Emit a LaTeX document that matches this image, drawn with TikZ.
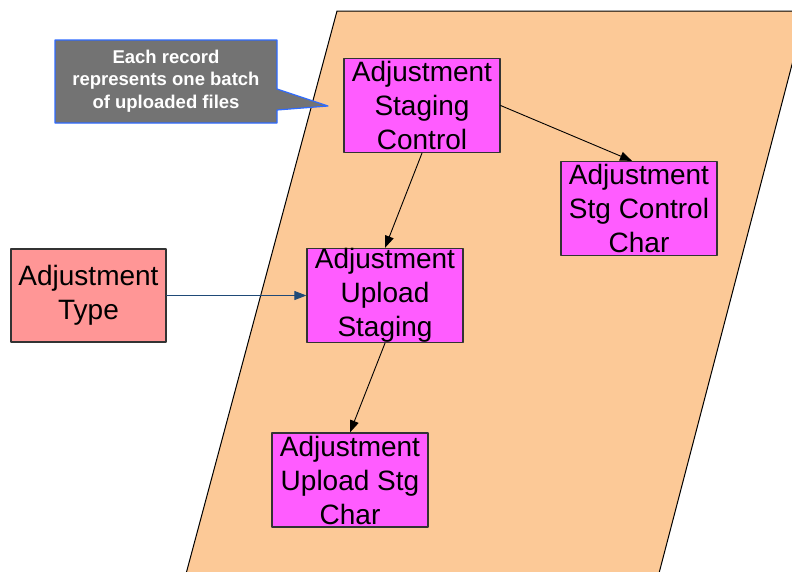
\documentclass[tikz,border=0pt]{standalone}
\usepackage{fontspec}
\setmainfont{Liberation Sans}
\usepackage{tikz}
\usetikzlibrary{arrows.meta}

\definecolor{peach}{HTML}{FCC997}
\definecolor{pinkbox}{HTML}{FF5CFF}
\definecolor{salmon}{HTML}{FF9696}
\definecolor{notegray}{HTML}{737373}
\definecolor{noteblue}{HTML}{2F6BFF}
\definecolor{linkblue}{HTML}{1F4A78}

\begin{document}
\begin{tikzpicture}[x=1pt, y=-1pt, line cap=round, line join=round, >={Triangle[length=12pt,width=9pt]},
	table/.style={draw=black!80, line width=1.2pt, fill=pinkbox, inner sep=0pt, align=center,
		minimum width=156pt, minimum height=94pt, font=\fontsize{28}{34}\selectfont},
	reftable/.style={table, fill=salmon},
	link/.style={->, line width=0.9pt, black}]
		\useasboundingbox (0,0) rectangle (792,571);
		\clip (0,0) rectangle (792,571);
		% area
		\draw [fill=peach, line width=1pt] (337,11) -- (806,11) -- (652,600) -- (179,600) -- cycle;
		% note
		\draw [fill=notegray, draw=noteblue, line width=1.2pt] (55,40) -- (277,40) -- (277,89) -- (328,106) -- (277,110) -- (277,123) -- (55,123) -- cycle;
		\node [text=white, align=center, font=\fontsize{18.5}{22.5}\selectfont\bfseries] (note) at (166,81) {Each record\\represents one batch\\of uploaded files};
		% tables
		\node [table] (stgctl) at (422,105.5) {Adjustment\\Staging\\Control};
		\node [table] (stgctlchar) at (639,208.5) {Adjustment\\Stg Control\\Char};
		\node [reftable, minimum width=155pt, minimum height=93pt] (adjtype) at (88.5,295.5) {Adjustment\\Type};
		\node [table] (upstg) at (385,295.5) {Adjustment\\Upload\\Staging};
		\node [table] (upstgchar) at (350,480) {Adjustment\\Upload Stg\\Char};
		% links
		\draw [link] (stgctl.east) -- ([xshift=-7pt]stgctlchar.north);
		\draw [link] (stgctl.south) -- (upstg.north);
		\draw [link, linkblue] (adjtype.east) -- (upstg.west);
		\draw [link] (upstg.south) -- (upstgchar.north);
	\end{tikzpicture}
\end{document}
